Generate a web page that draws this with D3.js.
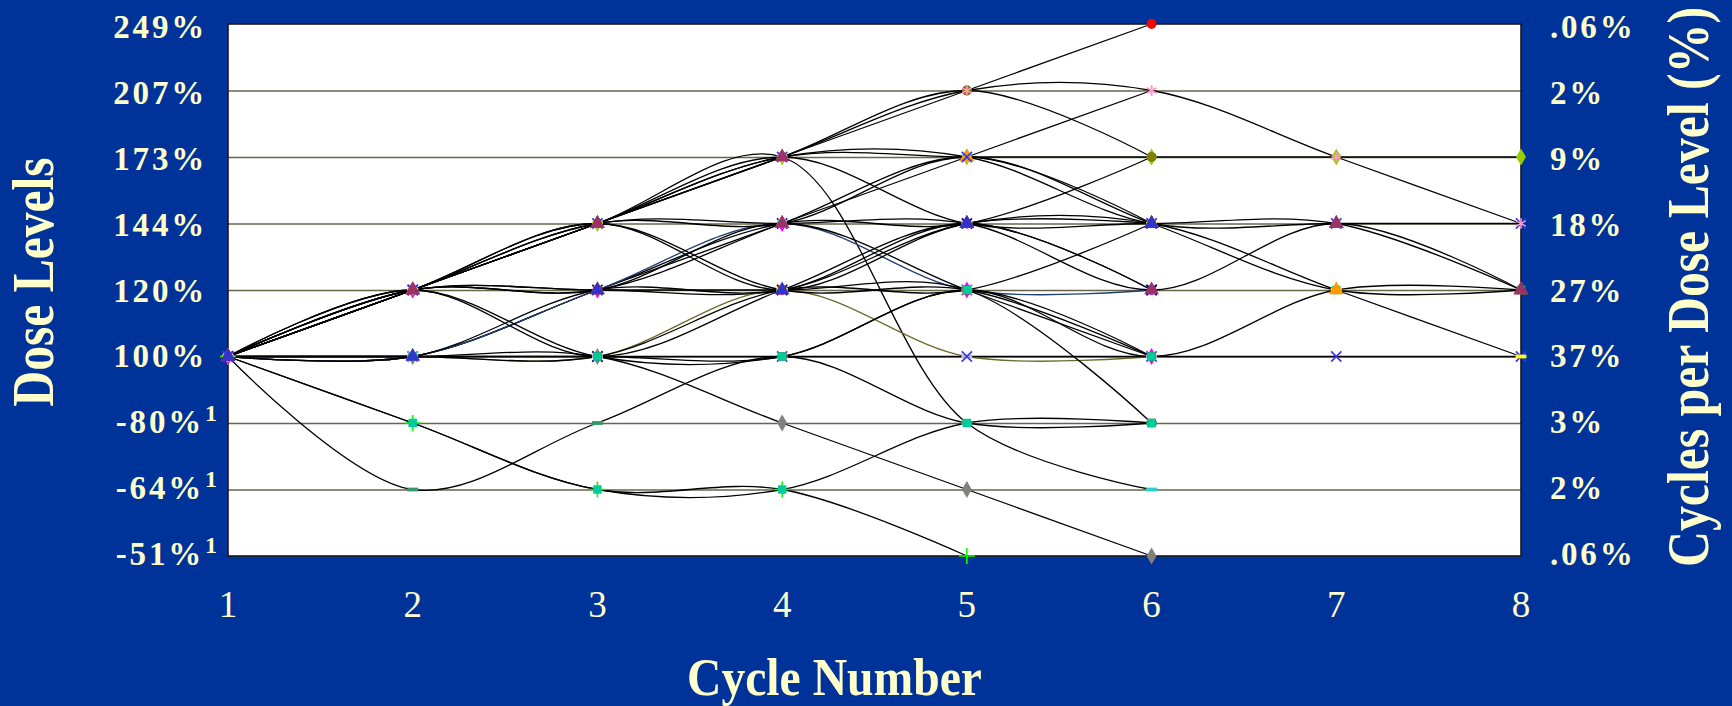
<!DOCTYPE html>
<html>
<head>
<meta charset="utf-8">
<script src="https://cdn.jsdelivr.net/npm/d3@7"></script>
<style>
  html, body { margin: 0; padding: 0; background: #003399; }
  svg { display: block; }
  text { font-family: "Liberation Serif", "Times New Roman", serif; fill: #FFFFCC; }
</style>
</head>
<body>
<svg id="chart" width="1732" height="706"></svg>
<script>
// Dose levels in percent of the starting dose, lowest to highest
const doseLevels = [51, 64, 80, 100, 120, 144, 173, 207, 249];
const doseLabels = ["-51%", "-64%", "-80%", "100%", "120%", "144%", "173%", "207%", "249%"];
const doseNotes  = ["1", "1", "1", "", "", "", "", "", ""];
// Share of all cycles given at each dose level
const cycleShares = [".06%", "2%", "3%", "37%", "27%", "18%", "9%", "2%", ".06%"];
const cycles = [1, 2, 3, 4, 5, 6, 7, 8];

// Dose given at each cycle, one row per course of treatment
const doseCourses = [
  [100, 120, 144, 173, 207, 249],
  [100, 120, 144, 173, 207, 173],
  [100, 120, 144, 173, 173, 173, 173, 173],
  [100, 120, 144, 173, 80, 64],
  [100, 100, 120, 144, 173, 207],
  [100, 100, 120, 144, 144, 173],
  [100, 100, 120, 144, 120, 120],
  [100, 120, 120, 120, 144, 120],
  [100, 100, 100, 120, 100, 100],
  [100, 120, 144, 120, 120, 100],
  [100, 100, 100, 100, 100, 100, 100, 100],
  [100, 100, 100, 80, 64, 51],
  [100, 80, 64, 64, 51],
  [100, 64, 80, 100, 80, 80],
  [100, 100, 100, 120, 120, 144],
  [100, 120, 120, 144, 120, 100],
  [100, 120, 100, 120, 144, 120],
  [100, 120, 100, 100, 120, 100],
  [100, 120, 120, 120, 120, 80],
  [100, 80, 64, 64, 80, 80],
  [100, 100, 100, 100, 120, 100, 120, 120],
  [100, 120, 144, 144, 173, 144],
  [100, 120, 144, 120, 144, 144, 120, 100],
  [100, 120, 120, 144, 173, 144, 120, 120],
  [100, 120, 144, 173, 173, 144, 144, 144],
  [100, 120, 144, 173, 207, 207, 173, 144],
  [100, 120, 144, 173, 144, 144, 144, 120],
  [100, 120, 144, 144, 144, 120, 144, 120],
  [100, 100, 120, 120, 144, 144]
];

// Marker shape, marker colour and line colour for each course (same order as doseCourses)
const courseMarkers = [
  "circle", "circle", "diamond", "dash", "asterisk", "circle", "times", "circle",
  "dash", "dash", "times", "diamond", "plus", "dash", "times", "diamond",
  "times", "square", "square", "square", "square", "square", "dash", "triangle",
  "times", "asterisk", "triangle", "triangle", "triangle"
];
const courseMarkerColors = [
  "#FF0000", "#808000", "#99CC00", "#33CCCC", "#FF99CC", "#808000", "#000080", "#FF00FF",
  "#C0C0C0", "#C0C0C0", "#3333FF", "#808080", "#00FF00", "#339966", "#CC99FF", "#FF00FF",
  "#000080", "#993300", "#993300", "#00CC99", "#00CC99", "#00FFFF", "#FFFF00", "#FF9900",
  "#3333FF", "#FF99CC", "#993366", "#993366", "#3333CC"
];
const courseStrokes = [
  "#000000", "#000000", "#000000", "#000000", "#000000", "#000000", "#1F3F73", "#000000",
  "#6B6B2E", "#000000", "#000000", "#000000", "#000000", "#000000", "#000000", "#000000",
  "#000000", "#000000", "#000000", "#000000", "#000000", "#000000", "#000000", "#000000",
  "#000000", "#000000", "#000000", "#000000", "#000000"
];

const svg = d3.select("#chart");
const W = 1732, H = 706;
const plot = { left: 228, right: 1521, top: 24, bottom: 556 };

svg.append("rect").attr("width", W).attr("height", H).attr("fill", "#003399");

const x = d3.scaleLinear().domain([1, 8]).range([plot.left, plot.right]);
const y = d3.scalePoint().domain(doseLevels).range([plot.bottom, plot.top]);
// Label rows sit on a slightly tighter spread than the gridlines
const yLabel = d3.scalePoint().domain(doseLevels).range([554, 27]);

// Plot area
svg.append("rect")
  .attr("x", plot.left).attr("y", plot.top)
  .attr("width", plot.right - plot.left).attr("height", plot.bottom - plot.top)
  .attr("fill", "#FFFFFF");

// Horizontal gridlines from the dose scale
const grid = svg.append("g")
  .attr("transform", `translate(${plot.left},0)`)
  .call(d3.axisLeft(y)
    .tickValues(doseLevels.slice(1, -1))
    .tickSize(-(plot.right - plot.left))
    .tickFormat(""));
grid.select(".domain").remove();
grid.selectAll(".tick line").attr("stroke", "#66664C").attr("stroke-width", 1.6);

// Plot border
svg.append("rect")
  .attr("x", plot.left).attr("y", plot.top)
  .attr("width", plot.right - plot.left).attr("height", plot.bottom - plot.top)
  .attr("fill", "none").attr("stroke", "#1A1A1A").attr("stroke-width", 1.6);

// Smoothed course lines
const line = d3.line()
  .x((d, i) => x(cycles[i]))
  .y(d => y(d))
  .curve(d3.curveCatmullRom.alpha(0.5));

svg.append("g")
  .selectAll("path")
  .data(doseCourses)
  .join("path")
  .attr("d", d => line(d))
  .attr("fill", "none")
  .attr("stroke", (d, i) => courseStrokes[i])
  .attr("stroke-width", 1.3);

// Markers
const dashSymbol = {
  draw(ctx, size) {
    const w = Math.sqrt(size) * 1.3, h = Math.sqrt(size) * 0.45;
    ctx.moveTo(-w / 2, -h / 2); ctx.lineTo(w / 2, -h / 2);
    ctx.lineTo(w / 2, h / 2); ctx.lineTo(-w / 2, h / 2); ctx.closePath();
  }
};
const symbolTypes = {
  circle: d3.symbolCircle, diamond: d3.symbolDiamond, square: d3.symbolSquare,
  triangle: d3.symbolTriangle, asterisk: d3.symbolAsterisk, times: d3.symbolTimes,
  plus: d3.symbolPlus, dash: dashSymbol
};
const strokeOnly = new Set(["asterisk", "times", "plus"]);
const symbolSizes = { circle: 75, diamond: 85, square: 72, triangle: 95, asterisk: 80, times: 70, plus: 85, dash: 70 };

const markerLayer = svg.append("g");
doseCourses.forEach((course, i) => {
  const kind = courseMarkers[i];
  const sym = d3.symbol().type(symbolTypes[kind]).size(symbolSizes[kind]);
  markerLayer.append("g")
    .selectAll("path")
    .data(course)
    .join("path")
    .attr("transform", (d, j) => `translate(${x(cycles[j])},${y(d)})`)
    .attr("d", sym)
    .attr("fill", strokeOnly.has(kind) ? "none" : courseMarkerColors[i])
    .attr("stroke", strokeOnly.has(kind) ? courseMarkerColors[i] : "none")
    .attr("stroke-width", 1.6);
});

// Left dose labels
const leftLabels = svg.append("g");
leftLabels.selectAll("text.main")
  .data(doseLevels)
  .join("text")
  .attr("class", "main")
  .attr("x", (d, i) => doseNotes[i] ? 204 : 207)
  .attr("y", d => yLabel(d) + 11)
  .attr("text-anchor", "end")
  .attr("font-size", 33)
  .attr("font-weight", "bold")
  .attr("letter-spacing", 2.8)
  .text((d, i) => doseLabels[i]);
leftLabels.selectAll("text.note")
  .data(doseLevels.filter((d, i) => doseNotes[i]))
  .join("text")
  .attr("class", "note")
  .attr("x", 205)
  .attr("y", d => yLabel(d) - 1)
  .attr("font-size", 24)
  .attr("font-weight", "bold")
  .text(d => doseNotes[doseLevels.indexOf(d)]);

// Right share labels
svg.append("g").selectAll("text")
  .data(doseLevels)
  .join("text")
  .attr("x", 1550)
  .attr("y", d => yLabel(d) + 11)
  .attr("font-size", 33)
  .attr("font-weight", "bold")
  .attr("letter-spacing", 2.8)
  .text((d, i) => cycleShares[i]);

// Cycle numbers
svg.append("g").selectAll("text")
  .data(cycles)
  .join("text")
  .attr("x", d => x(d))
  .attr("y", 617)
  .attr("text-anchor", "middle")
  .attr("font-size", 37)
  .text(d => d);

// Axis titles
svg.append("text")
  .attr("transform", "translate(53,282) rotate(-90)")
  .attr("text-anchor", "middle")
  .attr("font-size", 59)
  .attr("font-weight", "bold")
  .attr("textLength", 249)
  .attr("lengthAdjust", "spacingAndGlyphs")
  .text("Dose Levels");

svg.append("text")
  .attr("transform", "translate(1708,287) rotate(-90)")
  .attr("text-anchor", "middle")
  .attr("font-size", 60)
  .attr("font-weight", "bold")
  .attr("textLength", 560)
  .attr("lengthAdjust", "spacingAndGlyphs")
  .text("Cycles per Dose Level (%)");

svg.append("text")
  .attr("x", 834.5)
  .attr("y", 695)
  .attr("text-anchor", "middle")
  .attr("font-size", 52)
  .attr("font-weight", "bold")
  .attr("textLength", 295)
  .attr("lengthAdjust", "spacingAndGlyphs")
  .text("Cycle Number");
</script>
</body>
</html>
